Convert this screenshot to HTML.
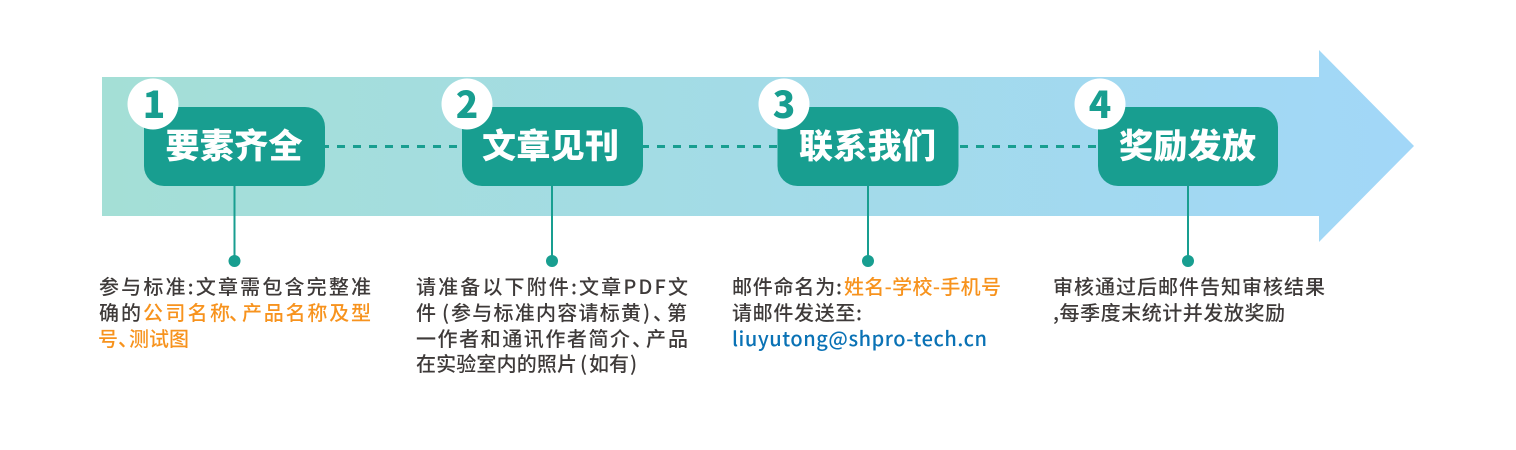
<!DOCTYPE html>
<html lang="zh-CN">
<head>
<meta charset="utf-8">
<style>
html,body{margin:0;padding:0;background:#fff;width:1516px;height:450px;overflow:hidden}
svg{display:block}
text{font-family:"Liberation Sans","Noto Sans CJK SC",sans-serif}
.t{font-family:"Noto Sans CJK SC",sans-serif;font-size:20px;font-weight:500;fill:#3e3a39}
.o{fill:#f7931e}
.b{fill:#0a72b5}
.h{font-family:"Noto Sans CJK SC",sans-serif;font-size:34px;font-weight:900;fill:#fff}
.n{font-family:"Noto Sans CJK SC",sans-serif;font-size:37px;font-weight:900;fill:#189e90;text-anchor:middle}
</style>
</head>
<body>
<svg width="1516" height="450" viewBox="0 0 1516 450" xmlns="http://www.w3.org/2000/svg">
<defs>
<linearGradient id="g" gradientUnits="userSpaceOnUse" x1="102" y1="0" x2="1414" y2="0">
<stop offset="0" stop-color="#a4dfd6"/>
<stop offset="1" stop-color="#a2d7f8"/>
</linearGradient>
</defs>
<polygon points="102,77 1319,77 1319,50 1414,146 1319,242 1319,216 102,216" fill="url(#g)"/>

<line x1="325" y1="146.500" x2="457" y2="146.500" stroke="#189e90" stroke-width="3" stroke-dasharray="8 8" stroke-dashoffset="4"/>
<line x1="643" y1="146.500" x2="778" y2="146.500" stroke="#189e90" stroke-width="3" stroke-dasharray="8 8" stroke-dashoffset="2"/>
<line x1="960" y1="146.500" x2="1098" y2="146.500" stroke="#189e90" stroke-width="3" stroke-dasharray="8 8"/>

<g stroke="#189e90" stroke-width="2">
<line x1="234.500" y1="186" x2="234.500" y2="261"/>
<line x1="552" y1="186" x2="552" y2="261"/>
<line x1="868" y1="186" x2="868" y2="261"/>
<line x1="1188" y1="186" x2="1188" y2="261"/>
</g>
<g fill="#189e90">
<circle cx="234.500" cy="261" r="6"/>
<circle cx="552" cy="261" r="6"/>
<circle cx="868" cy="261" r="6"/>
<circle cx="1188" cy="261" r="6"/>
<rect x="144" y="107" width="181" height="79" rx="20"/>
<rect x="462" y="107" width="181" height="79" rx="20"/>
<rect x="777.500" y="107" width="181" height="79" rx="20"/>
<rect x="1098" y="107" width="180" height="79" rx="20"/>
</g>

<g fill="#fff">
<circle cx="153" cy="104" r="25.500"/>
<circle cx="467" cy="104" r="25.500"/>
<circle cx="784" cy="104" r="25.500"/>
<circle cx="1100" cy="104" r="25.500"/>
</g>
<text class="n" x="154" y="118">1</text>
<text class="n" x="467" y="118">2</text>
<text class="n" x="784" y="118">3</text>
<text class="n" x="1100" y="118">4</text>

<text class="h" x="165.500" y="158" textLength="137">要素齐全</text>
<text class="h" x="482" y="158" textLength="137">文章见刊</text>
<text class="h" x="799" y="158" textLength="137">联系我们</text>
<text class="h" x="1119" y="158" textLength="137">奖励发放</text>

<text class="t" x="99" y="294" textLength="272">参与标准:文章需包含完整准</text>
<text class="t" x="99" y="320" textLength="42">确的</text>
<text class="t o" x="143" y="320" textLength="87">公司名称</text>
<text class="t o" x="229" y="320">、</text>
<text class="t o" x="242" y="320" textLength="129">产品名称及型</text>
<text class="t o" x="98" y="346">号</text>
<text class="t o" x="118" y="346">、</text>
<text class="t o" x="129" y="346" textLength="60">测试图</text>

<text class="t" x="416" y="294" textLength="272">请准备以下附件:文章PDF文</text>
<text class="t" x="416" y="320">件</text>
<text class="t" x="442" y="320">(</text>
<text class="t" x="451" y="320" textLength="190">参与标准内容请标黄</text>
<text class="t" x="643" y="320">)</text>
<text class="t" x="653" y="320">、</text>
<text class="t" x="667" y="320">第</text>
<text class="t" x="416" y="346" textLength="214">一作者和通讯作者简介</text>
<text class="t" x="632" y="346">、</text>
<text class="t" x="646" y="346" textLength="42">产品</text>
<text class="t" x="416" y="371" textLength="161">在实验室内的照片</text>
<text class="t" x="580" y="371">(</text>
<text class="t" x="589" y="371" textLength="40">如有</text>
<text class="t" x="630" y="371">)</text>

<text class="t" x="732" y="294" textLength="110">邮件命名为:</text>
<text class="t o" x="844" y="294" textLength="157">姓名-学校-手机号</text>
<text class="t" x="732" y="320" textLength="130">请邮件发送至:</text>
<text class="t b" x="732" y="346" textLength="255">liuyutong@shpro-tech.cn</text>

<text class="t" x="1053" y="294" textLength="272">审核通过后邮件告知审核结果</text>
<text class="t" x="1053" y="320" textLength="232">,每季度末统计并发放奖励</text>
</svg>
</body>
</html>
